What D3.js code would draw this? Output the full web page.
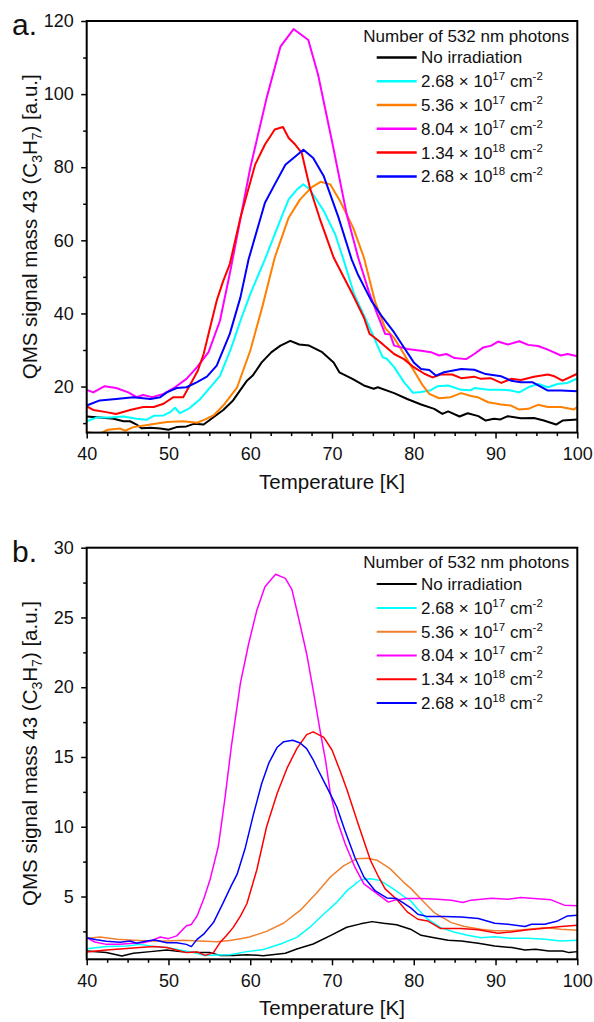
<!DOCTYPE html>
<html>
<head>
<meta charset="utf-8">
<script src="https://cdn.jsdelivr.net/npm/d3@7"></script>
<style>
body { margin: 0; background: #fff; }
svg { display: block; font-family: "Liberation Sans", Arial, sans-serif; }
</style>
</head>
<body>
<div id="vis-container"></div>
<script>

// Tick values
var xMajor = [40, 50, 60, 70, 80, 90, 100];
var xMinor = [42.5, 45, 47.5, 52.5, 55, 57.5, 62.5, 65, 67.5, 72.5, 75, 77.5, 82.5, 85, 87.5, 92.5, 95, 97.5];
var yMajorA = [20, 40, 60, 80, 100, 120];
var yMinorA = [10, 30, 50, 70, 90, 110];
var yMajorB = [5, 10, 15, 20, 25, 30];
var yMinorB = [2.5, 7.5, 12.5, 17.5, 22.5, 27.5];

// Legend
var legendTitle = "Number of 532 nm photons";
var legendMant = ["No irradiation", "2.68", "5.36", "8.04", "1.34", "2.68"];
var legendExp = [null, "17", "17", "17", "18", "18"];
var colorsA = ["#000000", "#00ffff", "#ff8000", "#ff00ff", "#ff0000", "#0000ff"];
var colorsB = ["#000000", "#00ffff", "#f0802f", "#ff00ff", "#ff0000", "#0000ff"];

// Panel a: [temperature K, signal a.u.]
var aNone = [[40,11.8],[41.6,11.5],[43.3,11.2],[44.5,10.5],[45.3,10.5],[46.1,9.6],[46.7,8.6],[47.8,8.7],[49,8.5],[50,8.2],[51,8.9],[52.2,9.1],[53.1,9.8],[54.3,9.6],[55.5,11.6],[56.7,13.6],[57.9,16.2],[59.6,21.6],[60.3,23],[61.4,26.6],[62.6,29.4],[63.7,31.2],[64.9,32.5],[66,31.5],[67.2,31.2],[68.8,29.4],[70.2,26.6],[70.9,23.9],[72.5,22.1],[73.9,20.3],[75.1,19.4],[75.6,19.8],[77.6,18.2],[79.2,16.6],[80.9,15.1],[82.5,13.9],[83.5,12.5],[84.2,13.2],[85.6,11.8],[86.6,12.7],[87.9,11.9],[88.8,10.7],[89.8,11.2],[90.6,11],[91.5,11.9],[93.1,11.3],[94.7,11.4],[95.9,10.7],[97.4,9.6],[98.2,10.7],[100,11]];
var a268e17 = [[40,10.5],[41.2,11.5],[42.9,11.5],[44.5,11.8],[46.1,11.2],[47.3,10.9],[48.2,12],[49.4,12.1],[50.2,13],[50.8,14.2],[51.4,12.7],[52.6,14.1],[53.9,16.6],[55.1,19.8],[56.3,22.9],[57.7,30.7],[58.8,38],[60,45.3],[61.8,54.8],[63.3,63.4],[64.7,71.2],[65.7,73.9],[66.5,75.3],[67.3,73.9],[69,68],[70.4,61.6],[71.4,54.8],[72.7,45.3],[74.4,37.1],[76.2,28],[76.7,27.6],[77.6,25.3],[78.8,21.2],[79.9,18.3],[80.9,18.5],[82.1,19],[82.9,20.1],[84.2,20.3],[85.8,19.1],[87,19],[87.4,19.6],[89.1,19.1],[90.7,19.1],[91.7,19],[92.9,18.4],[94,19.8],[95.2,20.7],[96.4,19.8],[97.6,20.7],[98.8,21],[100,22.2]];
var a536e17 = [[40,7.5],[41.6,7.1],[42.6,8.2],[44.1,8.5],[44.7,7.9],[45.7,8.9],[47.8,9.6],[49.8,10.3],[51.8,10.5],[53.5,10.1],[54.5,11],[55.5,12.1],[56.7,14.8],[58.4,19.8],[60,29.8],[61.5,42],[63,55.3],[64.7,66.2],[66.1,71.2],[67.5,74.5],[68.6,76],[69.8,75.3],[71,70.7],[72.6,63.4],[73.9,55.3],[75.3,43],[76.5,36],[77.6,33.3],[78.8,28.9],[80,24.4],[81.1,20.3],[81.9,18],[83.1,16.8],[84.5,17.1],[85.8,18.2],[87,17.4],[87.8,17.1],[89.1,15.7],[90.7,15.1],[91.9,14.8],[92.9,13.7],[94,13.9],[95.2,15],[96.4,14.4],[98,14.4],[99.6,13.7],[100,14.5]];
var a804e17 = [[40,19.1],[40.8,18.4],[42.2,20.1],[43.6,19.6],[45.1,18.4],[46.1,17.1],[46.9,17.7],[48,17.1],[49.4,18],[50.8,19.8],[52.2,22.1],[53.5,25.3],[54.9,29.4],[56.3,38],[57.6,52],[60,79.8],[62,98.9],[63.7,113],[65.3,117.8],[67.1,114.8],[68.3,105.3],[70,87.1],[71.8,67.1],[73.2,55.3],[74.5,46],[75.5,40],[76.5,34.4],[77.1,34.3],[77.6,31.2],[79.2,30.3],[80.9,29.8],[82.1,29.4],[83.1,28.5],[84,28.9],[85,27.8],[86.4,27.5],[87.4,28.9],[88.5,30.7],[89.5,31.2],[90.3,32.3],[91.5,31.5],[92.9,32.4],[94,31.4],[95.2,31.1],[96.4,30.1],[98,28.5],[98.8,28.9],[100,28.3]];
var a134e18 = [[40,14.6],[40.8,13.6],[42.4,13],[43.6,12.5],[45.3,13.6],[46.9,14.4],[48.2,14.4],[49.4,15.3],[50.6,17.1],[51.8,17.1],[52.6,20.3],[53.6,24.4],[54.3,28.9],[55.1,36.2],[55.9,43.5],[56.7,48.9],[57.5,53.5],[58.8,66.2],[60.6,80.7],[61.8,86.2],[63,90.3],[64,91],[64.7,88],[65.5,86.2],[66.3,83.9],[67.3,74.3],[68.6,65.3],[70.2,55.3],[72.5,45.3],[73.9,38.9],[74.6,34.4],[75.2,33.4],[76.2,31.6],[77.6,28.9],[78.8,27.5],[80,25.3],[81.3,23.5],[82.3,22.5],[83.3,23.3],[84.7,23.3],[85.8,22.3],[87.4,22.7],[88.2,22.1],[89.4,22.3],[90.7,21],[91.9,22.1],[93.1,21.8],[94.7,22.7],[96.4,23.3],[97.2,22.8],[98.2,21.6],[100,23.5]];
var a268e18 = [[40,14.8],[41.6,16.2],[43.6,16.6],[45.7,17.1],[47.8,16.6],[49,17.1],[49.8,18.4],[51,19.6],[52.2,19.8],[53.5,21.2],[54.7,22.7],[55.9,25.7],[57.5,34.4],[58.8,44.4],[59.8,54.8],[61.8,70.3],[63,75.3],[64.3,80.7],[66.5,84.8],[67.7,82.5],[69,77.5],[70.8,66.2],[72.4,54.8],[73.2,50.5],[74.8,43.5],[76.2,38.9],[77.6,34.8],[78.8,30.7],[80,26.6],[80.9,24.8],[81.9,24.5],[82.7,23],[83.7,23.9],[85.8,24.8],[87.4,24.6],[88.8,23.4],[90.7,22.8],[91.9,21.6],[93.1,21.2],[94.5,21.2],[96.4,18.9],[98,18.9],[100,18.7]];

// Panel b
var bNone = [[40,1.1],[42.4,0.98],[44.3,0.74],[45.7,0.93],[47.8,1.05],[49.8,1.17],[51.4,1.05],[53.5,0.98],[55.1,0.98],[56.3,0.78],[57.9,0.78],[59.6,0.83],[61.6,0.76],[64.3,0.93],[65.7,1.24],[67.7,1.6],[69.8,2.2],[71.8,2.8],[73.5,3.04],[74.9,3.2],[76.3,3.08],[77.9,2.98],[79.6,2.66],[80.9,2.22],[82.5,2.05],[84.2,1.86],[85.8,1.81],[87.9,1.65],[89.9,1.45],[92,1.34],[93.6,1.17],[94.9,1.22],[96.5,1.1],[98.2,1.1],[99,0.98],[100,1.05]];
var b268e17 = [[40,1.26],[42.4,1.41],[44.9,1.45],[46.5,1.57],[48.2,1.41],[49.8,1.34],[51.4,1.17],[53.1,0.98],[54.3,0.78],[55.9,0.8],[57.5,0.82],[59.6,1.05],[61.6,1.2],[63.7,1.6],[65.7,2.07],[67.3,2.8],[69,3.75],[70.6,4.6],[71.8,5.4],[73.5,6.2],[74.7,6.27],[75.9,6.14],[77.5,5.55],[78.8,5],[79.6,4.7],[80.5,4.09],[81.7,3.37],[83.3,2.77],[84.9,2.46],[86.6,2.22],[88.2,2.05],[89.9,2.12],[91.9,2],[94,2],[96,1.93],[98,1.81],[100,1.86]];
var b536e17 = [[40,2],[41.6,2.1],[43.7,1.93],[45.7,1.86],[47.8,1.81],[49.8,1.81],[51.8,1.86],[53.9,1.81],[55.9,1.76],[57.5,1.85],[58.8,1.98],[59.9,2.1],[62,2.5],[64.1,3.1],[66.1,4],[68.2,5.3],[69.8,6.4],[71.4,7.2],[73,7.7],[74.3,7.75],[75.5,7.6],[77.1,7],[78.8,6],[79.6,5.6],[80.9,4.8],[82.5,3.85],[84.6,3.13],[86.2,2.85],[88.2,2.66],[89.9,2.54],[91.9,2.54],[94,2.66],[96,2.77],[98,2.66],[100,2.58]];
var b804e17 = [[40,2.05],[41,1.74],[42.4,1.57],[44.1,1.57],[45.7,1.65],[46.9,1.69],[47.8,1.81],[49,2.1],[50,1.98],[51,2.18],[52.2,2.9],[52.8,3],[53.5,3.6],[54.3,4.8],[55.1,6.24],[56.1,8.6],[56.9,12],[57.7,15.8],[58.8,20.3],[59.8,23.1],[60.8,25.5],[61.8,27.2],[63.1,28.1],[64.3,27.8],[65.1,27],[65.9,25],[66.9,22.4],[67.7,19.8],[68.6,16.7],[69.2,14.8],[69.8,12.4],[70.6,10.5],[71.6,8.8],[72.8,7.1],[73.9,5.9],[75.5,5.2],[76.9,4.6],[77.7,4.75],[79.2,4.85],[80.9,4.85],[82.9,4.81],[84.6,4.74],[86,4.57],[87,4.74],[89.5,4.88],[91.5,4.81],[93.1,4.93],[94.7,4.85],[96.8,4.76],[98.4,4.38],[100,4.33]];
var b134e18 = [[40,1.03],[42.4,1.17],[44.9,1.27],[46.5,1.34],[48.2,1.41],[49.8,1.34],[51.4,1.1],[52.2,0.98],[53.5,1.03],[54.5,0.78],[55.5,0.98],[56.3,1.7],[57.1,2.2],[57.9,2.77],[58.8,3.6],[59.6,4.5],[60.8,6.9],[62,10],[63.3,12.4],[64.5,14.2],[65.7,15.6],[66.9,16.6],[67.7,16.8],[69,16.4],[70,15.5],[71,14],[71.8,12.7],[73.2,10.2],[74.7,7.6],[75.7,6.4],[76.5,5.55],[77.9,4.8],[79.2,3.9],[80.5,3.37],[81.7,3.25],[83.3,2.7],[85.8,2.7],[87.9,2.61],[90.3,2.37],[91.9,2.46],[94,2.61],[96,2.73],[98,2.85],[100,2.94]];
var b268e18 = [[40,2.05],[41.2,1.9],[42.4,1.8],[44.1,1.72],[45.3,1.81],[46.1,1.65],[47.3,1.81],[48.3,1.88],[49.8,1.69],[51,1.69],[52.2,1.57],[52.8,1.41],[53.5,1.93],[54.3,2.3],[55.5,3.13],[56.7,4.56],[57.7,5.8],[58.4,6.6],[59.4,8.5],[60.4,10.9],[61.4,13.1],[62.3,14.6],[63.3,15.7],[64.1,16.1],[65.2,16.2],[66.1,16],[66.9,15.6],[67.7,14.8],[68.1,14.3],[69.4,12.8],[70.6,11.4],[71.6,9.7],[72.8,7.8],[73.9,6.4],[75.3,5.4],[76.7,4.9],[77.9,4.85],[79.6,4.2],[80.5,3.73],[81.7,3.56],[83.7,3.56],[85.8,3.54],[87.9,3.42],[89.9,3.08],[91.5,3.01],[93.6,2.85],[94.4,3.01],[96,3.01],[97.6,3.25],[98.8,3.61],[100,3.66]];

// Dimensions
var width = 594, height = 1022;
var margin = { left: 86.7, right: 16.7 };
var plotW = width - margin.left - margin.right;
var plotH = 411.6;

var svg = d3.select("#vis-container")
	.append("svg")
	.attr("width", width)
	.attr("height", height)
	.style("background", "#fff");

var panels = [
	{ id: "a", top: 21, yDomain: [7.4, 120], yMajor: yMajorA, yMinor: yMinorA,
	  series: [aNone, a268e17, a536e17, a804e17, a134e18, a268e18], colors: colorsA, lw: 2 },
	{ id: "b", top: 547.7, yDomain: [0.5, 30], yMajor: yMajorB, yMinor: yMinorB,
	  series: [bNone, b268e17, b536e17, b804e17, b134e18, b268e18], colors: colorsB, lw: 1.5 }
];

var xScale = d3.scaleLinear().domain([40, 100]).range([0, plotW]);

panels.forEach(function (p) {
	var yScale = d3.scaleLinear().domain(p.yDomain).range([plotH, 0]);
	var g = svg.append("g")
		.attr("transform", "translate(" + margin.left + "," + p.top + ")");

	g.append("clipPath").attr("id", "clip-" + p.id)
		.append("rect").attr("width", plotW).attr("height", plotH);

	// x axis, minor then major
	var xMin = g.append("g")
		.attr("transform", "translate(0," + plotH + ")")
		.call(d3.axisBottom(xScale).tickValues(xMinor).tickSize(3.5).tickSizeOuter(0).tickFormat(""));
	var xMaj = g.append("g")
		.attr("transform", "translate(0," + plotH + ")")
		.call(d3.axisBottom(xScale).tickValues(xMajor).tickSize(6).tickSizeOuter(0).tickPadding(8.5));

	// y axis
	var yMin = g.append("g")
		.call(d3.axisLeft(yScale).tickValues(p.yMinor).tickSize(3.5).tickSizeOuter(0).tickFormat(""));
	var yMaj = g.append("g")
		.call(d3.axisLeft(yScale).tickValues(p.yMajor).tickSize(5.5).tickSizeOuter(0).tickPadding(7.5));

	[xMin, xMaj, yMin, yMaj].forEach(function (ax) {
		ax.select(".domain").remove();
		ax.selectAll(".tick line").attr("stroke", "#000").attr("stroke-width", 1.5);
		ax.selectAll(".tick text")
			.attr("fill", "#111")
			.style("font-size", "18px")
			.style("font-family", "'Liberation Sans', Arial, sans-serif");
	});

	// curves
	var line = d3.line()
		.x(function (d) { return xScale(d[0]); })
		.y(function (d) { return yScale(d[1]); });

	var curves = g.append("g").attr("clip-path", "url(#clip-" + p.id + ")");
	p.series.forEach(function (s, i) {
		curves.append("path")
			.datum(s)
			.attr("fill", "none")
			.attr("stroke", p.colors[i])
			.attr("stroke-width", p.lw)
			.attr("stroke-linejoin", "round")
			.attr("d", line);
	});

	// frame
	g.append("rect")
		.attr("width", plotW)
		.attr("height", plotH)
		.attr("fill", "none")
		.attr("stroke", "#000")
		.attr("stroke-width", 2);

	// axis titles
	g.append("text")
		.attr("x", plotW / 2)
		.attr("y", plotH + 56)
		.style("text-anchor", "middle")
		.style("font-size", "20.5px")
		.attr("fill", "#111")
		.text("Temperature [K]");

	var yl = g.append("text")
		.attr("transform", "rotate(-90)")
		.attr("x", -plotH / 2)
		.attr("y", 36.5 - margin.left)
		.style("text-anchor", "middle")
		.style("font-size", "20.5px")
		.attr("fill", "#111");
	yl.append("tspan").text("QMS signal mass 43 (C");
	yl.append("tspan").attr("dy", 5).style("font-size", "14px").text("3");
	yl.append("tspan").attr("dy", -5).text("H");
	yl.append("tspan").attr("dy", 5).style("font-size", "14px").text("7");
	yl.append("tspan").attr("dy", -5).text(") [a.u.]");

	// panel letter
	svg.append("text")
		.attr("x", 12)
		.attr("y", p.top + 14)
		.style("font-size", "30px")
		.attr("fill", "#111")
		.text(p.id + ".");

	// legend
	var lg = g.append("g").attr("transform", "translate(" + (363.3 - margin.left) + ",0)");
	lg.append("text")
		.attr("x", 0)
		.attr("y", 20.5)
		.style("font-size", "17px")
		.attr("fill", "#111")
		.text(legendTitle);
	legendMant.forEach(function (m, i) {
		var ly = 36.4 + i * 23.8;
		lg.append("line")
			.attr("x1", 13.4).attr("x2", 53.4)
			.attr("y1", ly).attr("y2", ly)
			.attr("stroke", p.colors[i])
			.attr("stroke-width", p.lw + 0.5);
		var t = lg.append("text")
			.attr("x", 57.7)
			.attr("y", ly + 6)
			.style("font-size", "17px")
			.attr("fill", "#111");
		if (legendExp[i] === null) {
			t.text(m);
		} else {
			t.append("tspan").text(m + " \u00d7 10");
			t.append("tspan").attr("dy", -7).style("font-size", "11.5px").text(legendExp[i]);
			t.append("tspan").attr("dy", 7).text(" cm");
			t.append("tspan").attr("dy", -7).style("font-size", "11.5px").text("-2");
		}
	});
});
</script>
</body>
</html>
